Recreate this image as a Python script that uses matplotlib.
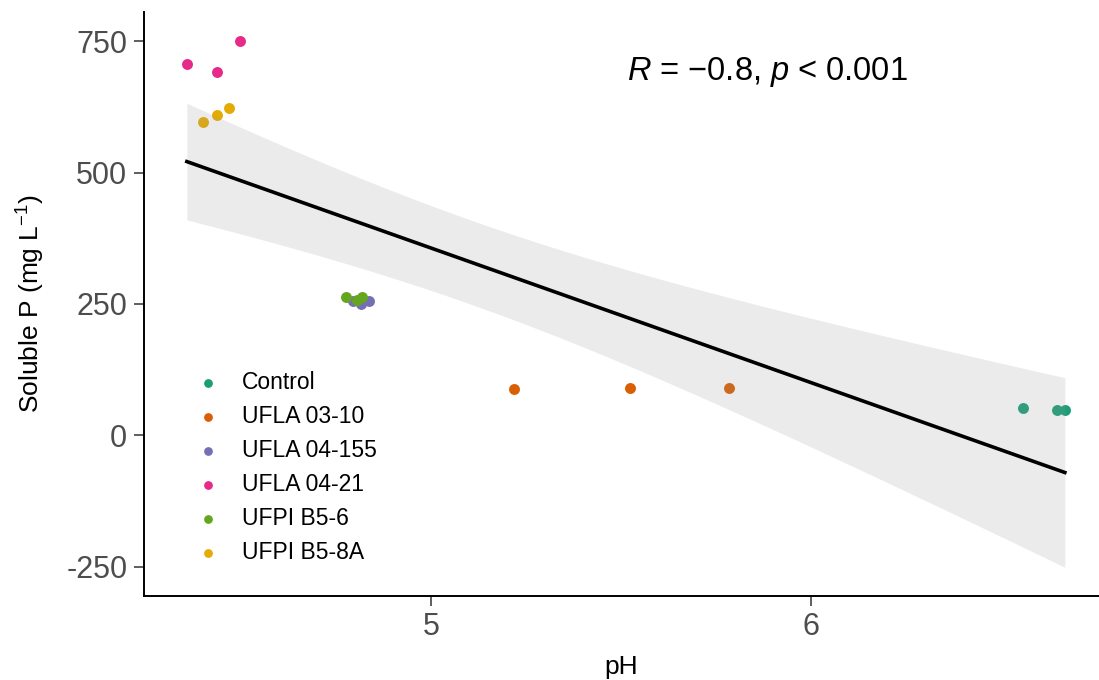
import numpy as np
import matplotlib.pyplot as plt

plt.rcParams['font.family'] = ['Liberation Sans', 'DejaVu Sans']
plt.rcParams['mathtext.fontset'] = 'custom'
plt.rcParams['mathtext.rm'] = 'Liberation Sans'
plt.rcParams['mathtext.it'] = 'Liberation Sans:italic'
plt.rcParams['axes.unicode_minus'] = False

# data
groups = ['Control', 'UFLA 03-10', 'UFLA 04-155', 'UFLA 04-21', 'UFPI B5-6', 'UFPI B5-8A']
colors = ['#1B9E77', '#D95F02', '#7570B3', '#E7298A', '#66A61E', '#E6AB02']

ph_control = [6.560, 6.649, 6.670]
p_control = [53, 49, 49]
ph_ufla0310 = [5.217, 5.523, 5.784]
p_ufla0310 = [89, 91, 91]
ph_ufla04155 = [4.794, 4.815, 4.837]
p_ufla04155 = [256, 250, 256]
ph_ufla0421 = [4.356, 4.436, 4.496]
p_ufla0421 = [706, 691, 750]
ph_ufpib56 = [4.776, 4.805, 4.818]
p_ufpib56 = [263, 258, 263]
ph_ufpib58a = [4.399, 4.436, 4.467]
p_ufpib58a = [596, 609, 623]

ph_all = [ph_control, ph_ufla0310, ph_ufla04155, ph_ufla0421, ph_ufpib56, ph_ufpib58a]
p_all = [p_control, p_ufla0310, p_ufla04155, p_ufla0421, p_ufpib56, p_ufpib58a]

fig = plt.figure(figsize=(10.99, 6.8), dpi=100)
ax = fig.add_axes([0.131, 0.124, 0.869, 0.858])

for g, c, xs, ys in zip(groups, colors, ph_all, p_all):
    ax.scatter(xs, ys, s=62, color=c, label=g, zorder=2, linewidths=0)

# linear fit with 95% confidence band (like geom_smooth(method='lm'))
x = np.concatenate(ph_all)
y = np.concatenate(p_all)
n = len(x)
b, a = np.polyfit(x, y, 1)
resid = y - (a + b * x)
s = np.sqrt(np.sum(resid ** 2) / (n - 2))
sxx = np.sum((x - x.mean()) ** 2)
xf = np.linspace(x.min(), x.max(), 100)
yf = a + b * xf
se = s * np.sqrt(1 / n + (xf - x.mean()) ** 2 / sxx)
tval = 2.12  # t(0.975, df=16)
ax.fill_between(xf, yf - tval * se, yf + tval * se, color='#999999', alpha=0.19,
                linewidth=0, zorder=3)
ax.plot(xf, yf, color='black', lw=2.6, zorder=4)

ax.text(5.517, 692, r'$\it{R}$ = $-$0.8, $\it{p}$ < 0.001', fontsize=23.5,
        va='center', ha='left')

ax.set_xlim(4.243, 6.76)
ax.set_ylim(-305, 805)
ax.set_xticks([5, 6])
ax.set_yticks([-250, 0, 250, 500, 750])
ax.tick_params(labelsize=22, labelcolor='#4D4D4D', length=7, width=1.1, color='#333333',
               pad=5)
for sp in ['top', 'right']:
    ax.spines[sp].set_visible(False)
for sp in ['left', 'bottom']:
    ax.spines[sp].set_linewidth(1.4)

ax.set_xlabel('pH', fontsize=19, labelpad=9)
ax.set_ylabel(r'Soluble P (mg L$^{-1}$)', fontsize=19, labelpad=14)

leg = ax.legend(loc='upper left', bbox_to_anchor=(0.045, 0.40), frameon=False,
                fontsize=16.5, markerscale=0.8, handletextpad=1.0, labelspacing=0.48,
                handlelength=1.0, borderaxespad=0)

fig.savefig('out.png', dpi=100)
